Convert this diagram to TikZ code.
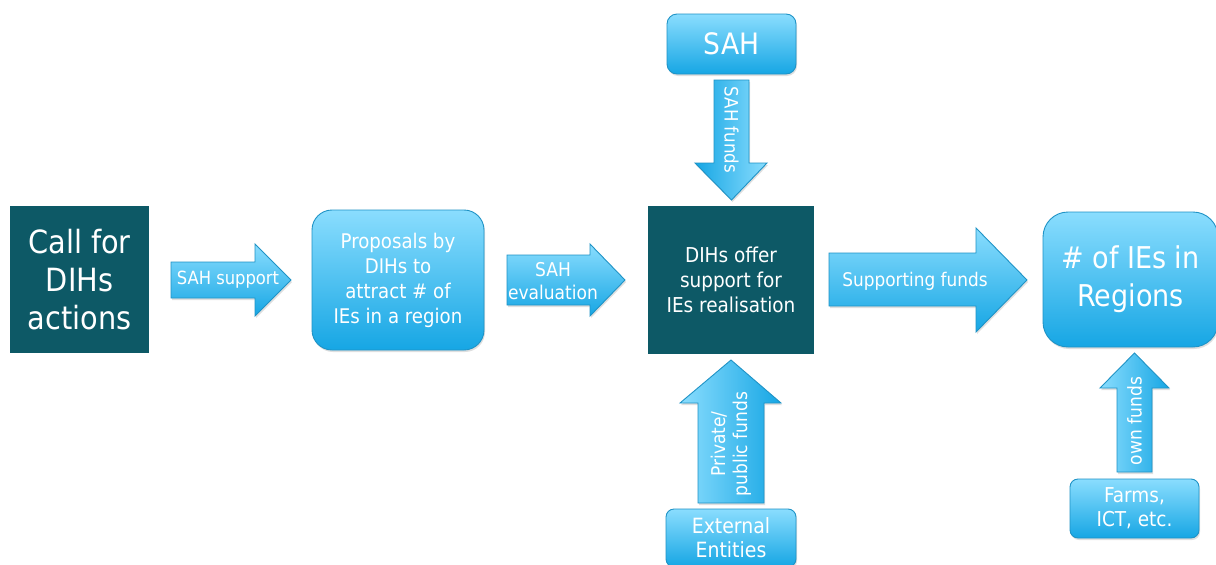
\documentclass[tikz,border=0pt]{standalone}
\usepackage{fontspec}
\setmainfont{DejaVu Sans Condensed}
\usetikzlibrary{positioning,shadows}

\definecolor{dihteal}{HTML}{0D5966}
\definecolor{sahtop}{HTML}{8ADDFE}
\definecolor{sahbot}{HTML}{16A6E4}
\definecolor{sahline}{HTML}{1F93C6}

\tikzset{
  darkbox/.style={fill=dihteal, text=white, align=center, inner sep=0pt},
  bluebox/.style={draw=sahline, line width=0.9pt, top color=sahtop, bottom color=sahbot, text=white,
    align=center, inner sep=0pt,
    drop shadow={shadow xshift=1pt, shadow yshift=-2pt, opacity=0.25}},
  flowarrow/.style={draw=sahline, line width=0.9pt, top color=sahtop, bottom color=sahbot,
    drop shadow={shadow xshift=1pt, shadow yshift=-2pt, opacity=0.25}},
  downarrow/.style={flowarrow, left color=sahbot, right color=sahtop},
  uparrow/.style={flowarrow, left color=sahtop, right color=sahbot},
  flowtext/.style={text=white, align=center, inner sep=0pt},
}

\begin{document}
\begin{tikzpicture}[x=1pt, y=-1pt]
\useasboundingbox (0,0) rectangle (1216,565);
\fill[white] (0,0) rectangle (1216,565);

% boxes
\node[darkbox, minimum width=139pt, minimum height=147pt, font=\fontsize{32}{38}\selectfont] (call) at (79.5,279.5) {Call for\\DIHs\\actions};
\node[bluebox, rounded corners=20pt, minimum width=172pt, minimum height=140pt, font=\fontsize{20.2}{25}\selectfont] (proposals) at (398,280) {Proposals by\\DIHs to\\attract \# of\\IEs in a region};
\node[darkbox, minimum width=166pt, minimum height=148pt, font=\fontsize{20.5}{25}\selectfont] (offer) at (731,280) {DIHs offer\\support for\\IEs realisation};
\node[bluebox, rounded corners=10pt, minimum width=129pt, minimum height=60pt, font=\fontsize{29.5}{36}\selectfont] (sah) at (731.5,44) {SAH};
\node[bluebox, rounded corners=8pt, minimum width=130pt, minimum height=58pt, font=\fontsize{21}{24}\selectfont] (external) at (731,538) {External\\Entities};
\node[bluebox, rounded corners=25pt, minimum width=175pt, minimum height=135pt, font=\fontsize{30}{38}\selectfont] (regions) at (1130.5,279.5) {\# of IEs in\\Regions};
\node[bluebox, rounded corners=8pt, minimum width=129pt, minimum height=59pt, font=\fontsize{20.5}{24}\selectfont] (farms) at (1134.5,508.5) {Farms,\\ICT, etc.};

% block arrows
\draw[flowarrow] (171,262) -- (255,262) -- (255,244) -- (291,280) -- (255,316) -- (255,298) -- (171,298) -- cycle;
\draw[flowarrow] (507,255) -- (590,255) -- (590,244) -- (625,280) -- (590,316) -- (590,305) -- (507,305) -- cycle;
\draw[flowarrow] (829,253) -- (976,253) -- (976,228) -- (1027,280) -- (976,332) -- (976,306) -- (829,306) -- cycle;
\draw[downarrow] (714,80) -- (714,163) -- (695,163) -- (731.5,200) -- (767,163) -- (749,163) -- (749,80) -- cycle;
\draw[uparrow] (698,503) -- (698,403) -- (680,403) -- (731,360) -- (781,403) -- (764,403) -- (764,503) -- cycle;
\draw[uparrow] (1117,472) -- (1117,388) -- (1100,388) -- (1134.5,353) -- (1169,388) -- (1152,388) -- (1152,472) -- cycle;

% arrow labels
\node[flowtext, font=\fontsize{18.2}{22}\selectfont] (supportlbl) at (228,280) {SAH support};
\node[flowtext, font=\fontsize{19}{23}\selectfont] (evallbl) at (553,281) {SAH\\evaluation};
\node[flowtext, font=\fontsize{18.8}{22}\selectfont] (fundslbl) at (915,281) {Supporting funds};
\node[flowtext, rotate=-90, font=\fontsize{18.5}{22}\selectfont] (sahfundslbl) at (731.5,130) {SAH funds};
\node[flowtext, rotate=90, font=\fontsize{19}{22}\selectfont] (privatelbl) at (731,444) {Private/\\public funds};
\node[flowtext, rotate=90, font=\fontsize{19}{22}\selectfont] (ownlbl) at (1134.5,421) {own funds};
\end{tikzpicture}
\end{document}
